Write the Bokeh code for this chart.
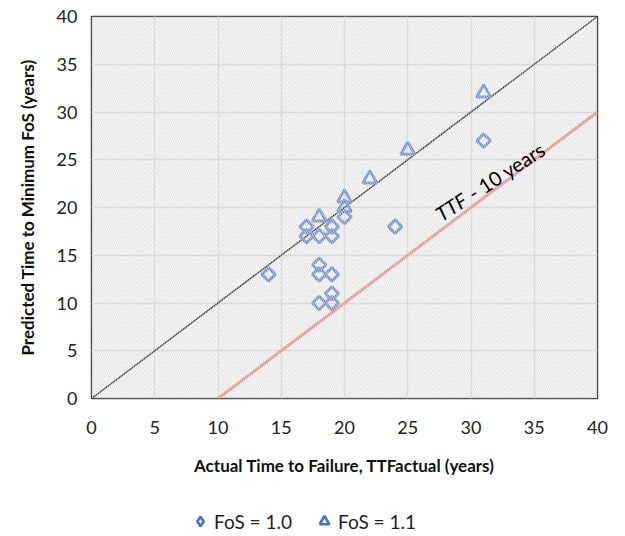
from bokeh.plotting import figure
from bokeh.layouts import column
from bokeh.models import ColumnDataSource, Legend, LegendItem, BoxAnnotation, Label, FixedTicker
from bokeh.embed import file_html
from bokeh.resources import INLINE
import math

# FoS = 1.0 series (diamonds)
fos10_x = [14, 17, 17, 18, 18, 18, 18, 19, 19, 19, 19, 19, 20, 24, 31]
fos10_y = [13, 17, 18, 17, 14, 13, 10, 18, 17, 13, 11, 10, 19, 18, 27]
# FoS = 1.1 series (triangles)
fos11_x = [18, 20, 20, 22, 25, 31]
fos11_y = [19, 20, 21, 23, 26, 32]
# reference lines
line_x = [0, 40]
line_y = [0, 40]
ttf10_x = [10, 40]
ttf10_y = [0, 30]
ticks = [0, 5, 10, 15, 20, 25, 30, 35, 40]

FONT = "Lato"
BLUE = "#4472c4"
W, H = 620, 494
BL, BR, BT = 91, 23, 16
BB = H - BT - 382
p = figure(width=W, height=H, x_range=(0, 40), y_range=(0, 40),
           output_backend="svg", toolbar_location=None,
           min_border_left=BL, min_border_right=BR, min_border_top=BT, min_border_bottom=BB)

p.add_layout(BoxAnnotation(left=0, right=40, bottom=0, top=40, fill_alpha=0,
                           line_alpha=0, hatch_pattern="left_diagonal_line",
                           hatch_color="#dcdcdc", hatch_scale=4.5, hatch_weight=1), "center")

p.xgrid.grid_line_color = "#d9d9d9"
p.ygrid.grid_line_color = "#d9d9d9"
p.xgrid.grid_line_width = 1.5
p.ygrid.grid_line_width = 1.5
p.outline_line_color = "#404040"
p.outline_line_width = 1.5

for ax in (p.xaxis, p.yaxis):
    ax.ticker = FixedTicker(ticks=ticks)
    ax.axis_line_color = None
    ax.major_tick_line_color = None
    ax.minor_tick_line_color = None
    ax.major_label_text_font = FONT
    ax.major_label_text_font_size = "18px"
    ax.major_label_text_color = "#222222"
    ax.axis_label_text_font = FONT
    ax.axis_label_text_font_size = "17px"
    ax.axis_label_text_font_style = "bold"
    ax.axis_label_text_color = "#111111"
p.xaxis.axis_label = "Actual Time to Failure, TTFactual (years)"
p.yaxis.axis_label = "Predicted Time to Minimum FoS (years)"
p.xaxis.major_label_standoff = 16
p.yaxis.major_label_standoff = 8
p.xaxis.axis_label_standoff = 18
p.yaxis.axis_label_standoff = 16

p.line(line_x, line_y, line_color="black", line_width=1.5)
p.line(ttf10_x, ttf10_y, line_color="#f47272", line_width=3)

s10 = ColumnDataSource(dict(x=fos10_x, y=fos10_y))
s11 = ColumnDataSource(dict(x=fos11_x, y=fos11_y))
p.scatter("x", "y", source=s10, marker="square", angle=math.pi / 4, size=9.5,
          fill_color=None, line_color=BLUE, line_width=3)
p.scatter("x", "y", source=s11, marker="triangle", size=14, fill_color=None,
          line_color=BLUE, line_width=3)

ang = math.radians(33)
p.add_layout(Label(x=27.35, y=19.16, text="TTF", angle=ang, text_align="left",
                   text_baseline="alphabetic", text_font=FONT, text_font_size="20px",
                   text_font_style="italic", text_color="black"))
p.add_layout(Label(x=29.9, y=21.36, text="- 10 years", angle=ang, text_align="left",
                   text_baseline="alphabetic", text_font=FONT, text_font_size="20px",
                   text_color="black"))

# legend strip below the chart (its renderers sit outside its visible range)
lg = figure(width=W, height=40, x_range=(1000, 1001), y_range=(1000, 1001),
            output_backend="svg", toolbar_location=None, x_axis_type=None, y_axis_type=None,
            min_border=0)
lg.outline_line_color = None
lg.grid.visible = False
g1 = lg.scatter("x", "y", source=s10, marker="diamond", size=12, fill_color=None,
                line_color=BLUE, line_width=2.6)
g2 = lg.scatter("x", "y", source=s11, marker="triangle", size=12, fill_color=None,
                line_color=BLUE, line_width=2.6)
legend = Legend(items=[LegendItem(label="FoS = 1.0", renderers=[g1]),
                       LegendItem(label="FoS = 1.1", renderers=[g2])],
                orientation="horizontal", location=(97, 0),
                label_text_font=FONT, label_text_font_size="19px",
                label_text_color="#222222", border_line_color=None,
                background_fill_alpha=0, glyph_width=24, glyph_height=26, spacing=20,
                margin=0, padding=4, label_standoff=2)
lg.add_layout(legend, "center")

layout = column(p, lg, spacing=0)
open("out.html", "w").write(file_html(layout, INLINE))
